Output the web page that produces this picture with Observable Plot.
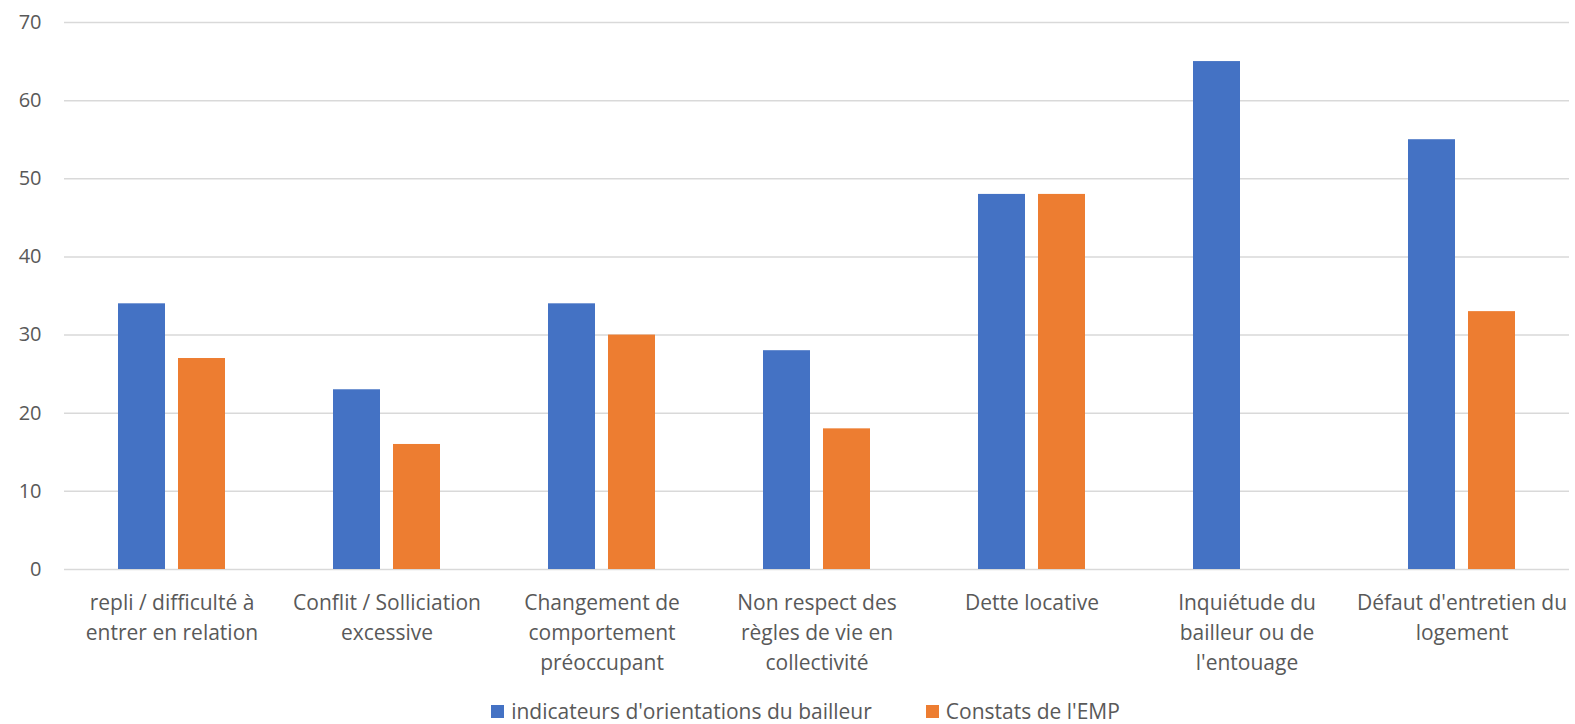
<!DOCTYPE html>
<html><head><meta charset="utf-8">
<script src="https://cdn.jsdelivr.net/npm/d3@7"></script>
<script src="https://cdn.jsdelivr.net/npm/@observablehq/plot@0.6"></script>
<style>
body{margin:0;background:#fff;font-family:"Open Sans",sans-serif;}
#legend{display:flex;justify-content:center;align-items:center;gap:54px;margin-top:9px;padding-left:36px;font-size:21px;color:#595959;line-height:24px;white-space:nowrap;}
#legend span.item{display:flex;align-items:center;}
#legend span.sw{display:inline-block;width:13px;height:13px;margin-right:7px;}
</style>
</head><body><div id="chart"></div><div id="legend"></div><script>
const categories = ["repli","conflit","changement","regles","dette","inquietude","defaut"];
const labels = [
  "repli / difficulté à\nentrer en relation",
  "Conflit / Solliciation\nexcessive",
  "Changement de\ncomportement\npréoccupant",
  "Non respect des\nrègles de vie en\ncollectivité",
  "Dette locative",
  "Inquiétude du\nbailleur ou de\nl'entouage",
  "Défaut d'entretien du\nlogement"
];
const seriesNames = ["indicateurs d'orientations du bailleur", "Constats de l'EMP"];
const bailleur = [34, 23, 34, 28, 48, 65, 55];
const emp = [27, 16, 30, 18, 48, null, 33];
const yTicks = [0, 10, 20, 30, 40, 50, 60, 70];
const colors = ["#4472C4", "#ED7D31"];

const data = categories.flatMap((c, i) => [
  {cat: c, series: seriesNames[0], value: bailleur[i]},
  {cat: c, series: seriesNames[1], value: emp[i]}
]).filter(d => d.value != null);
const labelOf = Object.fromEntries(categories.map((c, i) => [c, labels[i]]));

const chart = Plot.plot({
  width: 1575, height: 690,
  marginLeft: 64, marginRight: 6, marginTop: 22, marginBottom: 121,
  style: {fontFamily: "Open Sans", fontSize: "21px", color: "#595959", background: "#fff"},
  fx: {domain: categories, padding: 0, label: null},
  x: {domain: seriesNames, paddingInner: 0.213, paddingOuter: 0.876, axis: null},
  y: {domain: [0, 70], label: null},
  color: {domain: seriesNames, range: colors},
  marks: [
    Plot.gridY(yTicks, {stroke: "#d9d9d9", strokeOpacity: 1, strokeWidth: 1.5}),
    Plot.axisY(yTicks, {tickSize: 0, tickPadding: 23, label: null, fill: "#595959", fontSize: 20}),
    Plot.axisFx({anchor: "bottom", tickSize: 0, tickPadding: 19, label: null, tickFormat: d => labelOf[d], lineHeight: 1.43, fill: "#595959"}),
    Plot.barY(data, {fx: "cat", x: "series", y: "value", fill: "series"})
  ]
});
document.getElementById("chart").appendChild(chart);

const legend = document.getElementById("legend");
seriesNames.forEach((s, i) => {
  const item = document.createElement("span");
  item.className = "item";
  const sw = document.createElement("span");
  sw.className = "sw";
  sw.style.background = colors[i];
  item.appendChild(sw);
  item.appendChild(document.createTextNode(s));
  legend.appendChild(item);
});
</script></body></html>
